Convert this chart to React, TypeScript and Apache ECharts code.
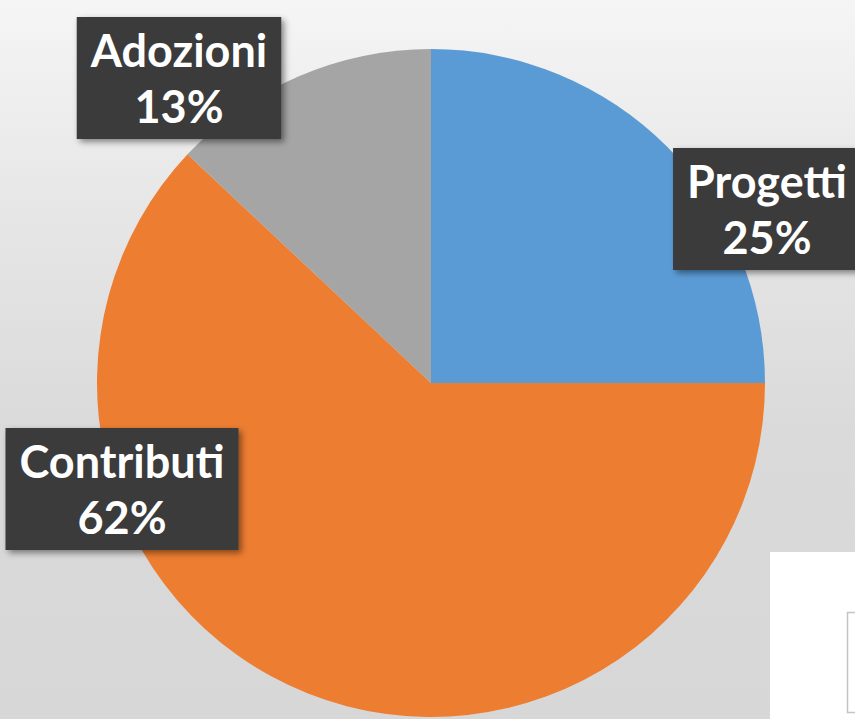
import React, { useEffect, useRef } from "react";
import * as echarts from "echarts";

const categories = ["Progetti", "Contributi", "Adozioni"];
const values = [25, 62, 13];
const colors = ["#5B9BD5", "#ED7D31", "#A5A5A5"];
// label box centres (layout only)
const labelPos = [
  [767, 209],
  [122, 489],
  [179, 78],
];

export default function App() {
  const ref = useRef<HTMLDivElement>(null);
  useEffect(() => {
    document.body.style.margin = "0";
    const chart = echarts.init(ref.current!, null, { renderer: "svg" });
    chart.setOption({
      animation: false,
      graphic: [
        {
          type: "rect",
          z: -10,
          shape: { x: 0, y: 0, width: 855, height: 719 },
          style: {
            fill: new echarts.graphic.LinearGradient(0, 0, 0, 1, [
              { offset: 0, color: "#f5f5f5" },
              { offset: 0.3, color: "#e6e6e6" },
              { offset: 0.6, color: "#dadada" },
              { offset: 1, color: "#d7d7d7" },
            ]),
          },
        },
        {
          type: "rect",
          z: -5,
          shape: { x: 770, y: 552, width: 85, height: 167 },
          style: { fill: "#ffffff" },
        },
        {
          type: "rect",
          z: -4,
          shape: { x: 847.5, y: 612.5, width: 12, height: 100 },
          style: { fill: "#ffffff", stroke: "#c4c4c4", lineWidth: 1.5 },
        },
      ],
      series: [
        {
          type: "pie",
          center: [431, 383],
          radius: 334,
          startAngle: 90,
          clockwise: true,
          color: colors,
          itemStyle: { borderWidth: 0 },
          labelLine: { show: false },
          label: {
            show: true,
            position: "inside",
            overflow: "none",
            formatter: "{b}\n{c}%",
            color: "#ffffff",
            fontFamily: "Lato, 'Open Sans', sans-serif",
            fontWeight: "bold",
            fontSize: 45,
            lineHeight: 56,
            align: "center",
            backgroundColor: "#3a3a3a",
            padding: [6, 14, 4, 14],
            shadowColor: "rgba(0,0,0,0.45)",
            shadowBlur: 6,
            shadowOffsetX: 3,
            shadowOffsetY: 3,
          },
          labelLayout: (p: any) => ({
            x: labelPos[p.dataIndex][0],
            y: labelPos[p.dataIndex][1],
            align: "center",
            verticalAlign: "middle",
          }),
          data: categories.map((c, i) => ({ name: c, value: values[i] })),
        },
      ],
    });
    return () => chart.dispose();
  }, []);
  return <div ref={ref} style={{ width: 855, height: 719 }} />;
}
